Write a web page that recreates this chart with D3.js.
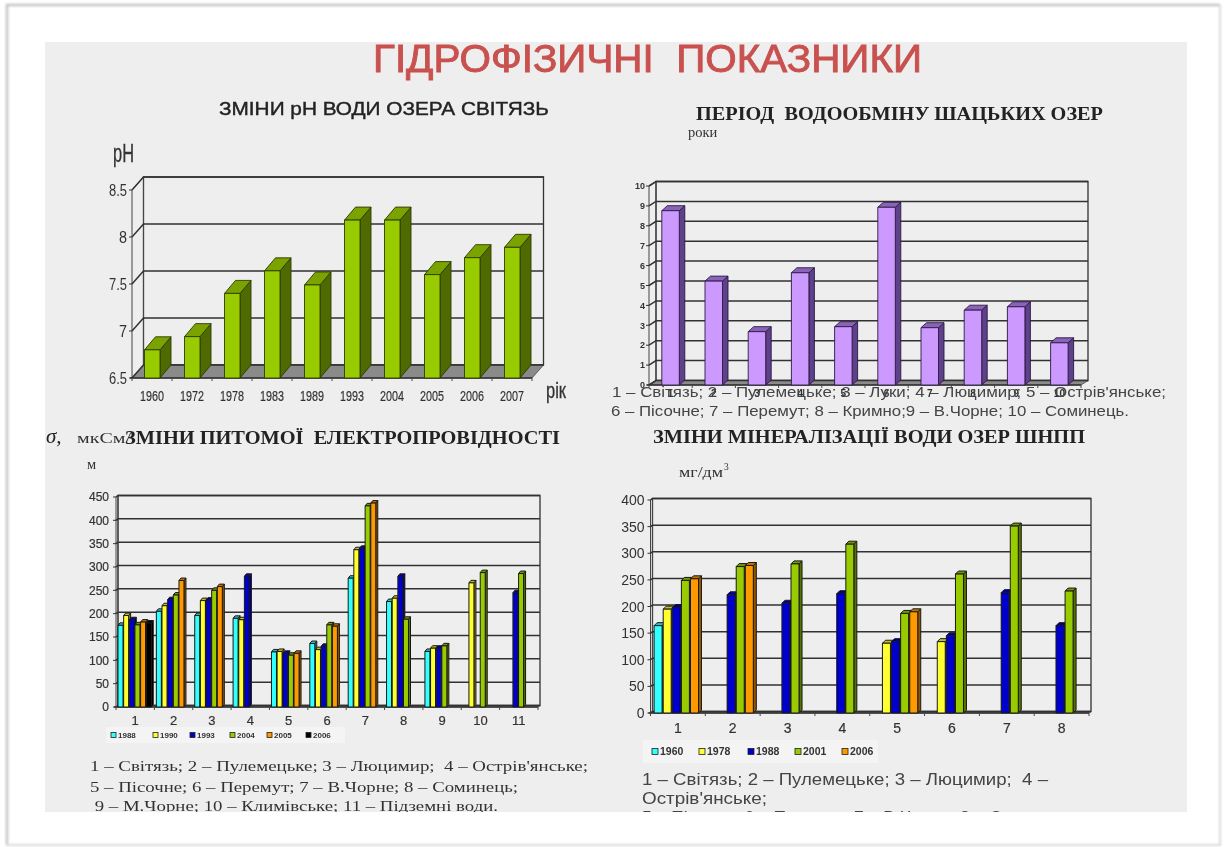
<!DOCTYPE html>
<html><head><meta charset="utf-8">
<script src="https://cdn.jsdelivr.net/npm/d3@7"></script>
<style>html,body{margin:0;padding:0;background:#fff}svg{display:block}</style></head>
<body><svg id="c" width="1224" height="847"></svg>
<script>
// ---------- data ----------
const phYears = ["1960","1972","1978","1983","1989","1993","2004","2005","2006","2007"];
const phValues = [6.8,6.94,7.4,7.64,7.49,8.18,8.18,7.6,7.78,7.89];
const phTicks = [6.5,7,7.5,8,8.5];

const exchangeCats = ["1","2","3","4","5","6","7","8","9","10"];
const exchangeValues = [8.76,5.22,2.68,5.64,2.93,8.93,2.88,3.76,3.93,2.12];
const exchangeTicks = [0,1,2,3,4,5,6,7,8,9,10];

const condCats = ["1","2","3","4","5","6","7","8","9","10","11"];
const condSeries = ["1988","1990","1993","2004","2005","2006"];
const cond1988 = [175,205,196,190,118,136,276,226,119,null,null];
const cond1990 = [196,217,228,187,119,123,337,233,126,266,null];
const cond1993 = [187,230,229,280,115,130,340,280,126,null,245];
const cond2004 = [176,240,250,null,111,176,431,188,131,288,286];
const cond2005 = [182,271,258,null,115,173,437,null,null,null,null];
const cond2006 = [180,null,null,null,null,null,null,null,null,null,null];
const condTicks = [0,50,100,150,200,250,300,350,400,450];

const minCats = ["1","2","3","4","5","6","7","8"];
const minSeries = ["1960","1978","1988","2001","2006"];
const min1960 = [164,null,null,null,null,null,null,null];
const min1978 = [195,null,null,null,131,134,null,null];
const min1988 = [198,222,206,224,134,145,226,164];
const min2001 = [249,275,280,317,187,261,351,229];
const min2006 = [252,277,null,null,190,null,null,null];
const minTicks = [0,50,100,150,200,250,300,350,400];

const condColors = ["#33ffff","#ffff33","#0000cc","#99cc00","#ff9900","#000000"];
const minColors = ["#33ffff","#ffff33","#0000cc","#99cc00","#ff9900"];

// ---------- page ----------
const svg = d3.select("#c");
const defs = svg.append("defs");
defs.append("filter").attr("id","soft").attr("x","-2%").attr("y","-2%").attr("width","104%").attr("height","104%")
  .append("feGaussianBlur").attr("stdDeviation",0.65);
defs.append("filter").attr("id","soft2").append("feGaussianBlur").attr("stdDeviation",1.2);
defs.append("clipPath").attr("id","slide").append("rect").attr("x",45).attr("y",42).attr("width",1142).attr("height",770);

svg.append("path").attr("d","M7 845V5H1220").attr("fill","none").attr("stroke","#c4c4c4").attr("stroke-width",2.5).attr("filter","url(#soft2)");
svg.append("path").attr("d","M7 845H1220V5").attr("fill","none").attr("stroke","#dadada").attr("stroke-width",2).attr("filter","url(#soft2)");
svg.append("rect").attr("x",45).attr("y",42).attr("width",1142).attr("height",770).attr("fill","#eeeeee");

const root = svg.append("g").attr("clip-path","url(#slide)").append("g").attr("filter","url(#soft)");
const SANS = "'Liberation Sans',Arial,sans-serif", SERIF = "'Liberation Serif','Times New Roman',serif";

function txt(t,x,y,size,opt={}){
  const el = root.append("text").attr("x",x).attr("y",y).attr("font-size",size)
    .attr("font-family",opt.font||SANS).attr("fill",opt.fill||"#333")
    .attr("font-weight",opt.weight||"normal").attr("text-anchor",opt.anchor||"start")
    .attr("font-style",opt.style||"normal").attr("xml:space","preserve").style("white-space","pre").text(t);
  if(opt.width) el.attr("textLength",opt.width).attr("lengthAdjust","spacingAndGlyphs");
  if(opt.stroke) el.attr("stroke",opt.fill||"#333").attr("stroke-width",opt.stroke);
  return el;
}
function shade(c,k){ return d3.color(c).darker(k).formatHex(); }

// generic 3-D column chart drawn from scales
function chart(cfg){
  const g = root.append("g");
  const {x,y,dx,dy,ticks} = cfg;
  const [y0,y1] = y.range(), [x0,x1] = x.range();
  // walls
  g.append("path").attr("d",`M${x0+dx} ${y1-dy}H${x1+dx}V${y0-dy}H${x0+dx}Z`).attr("fill","none").attr("stroke","#333").attr("stroke-width",1.3);
  g.append("path").attr("d",`M${x0} ${y1}L${x0+dx} ${y1-dy}V${y0-dy}L${x0} ${y0}Z`).attr("fill","none").attr("stroke","#444").attr("stroke-width",1);
  g.append("path").attr("d",`M${x0} ${y0}L${x0+dx} ${y0-dy}H${x1+dx}L${x1} ${y0}Z`).attr("fill","#8a8a8a").attr("stroke","#444").attr("stroke-width",.8);
  // gridlines + ticks
  ticks.forEach(t=>{
    const p=y(t);
    g.append("path").attr("d",`M${x0} ${p}L${x0+dx} ${p-dy}H${x1+dx}`).attr("fill","none").attr("stroke","#333").attr("stroke-width",cfg.gridW||1.5);
    g.append("line").attr("x1",x0-3).attr("x2",x0).attr("y1",p).attr("y2",p).attr("stroke","#333");
    txt(String(t),x0-(cfg.tickGap||5),p+cfg.tickSize*0.36,cfg.tickSize,{anchor:"end",fill:"#333",weight:cfg.tickWeight,stroke:cfg.tickStroke,width:cfg.tickWidth&&cfg.tickWidth(t)});
  });
  // axis
  g.append("line").attr("x1",x0-2).attr("x2",x1).attr("y1",y0).attr("y2",y0).attr("stroke","#333").attr("stroke-width",1.4);
  x.domain().forEach(d=>{
    g.append("line").attr("x1",x(d)).attr("x2",x(d)).attr("y1",y0).attr("y2",y0+3).attr("stroke","#444");
  });
  g.append("line").attr("x1",x1).attr("x2",x1).attr("y1",y0).attr("y2",y0+3).attr("stroke","#444");
  x.domain().forEach(d=>{
    txt(d,x(d)+x.bandwidth()/2,y0+cfg.labelOff,cfg.labelSize,{anchor:"middle",fill:"#333",weight:cfg.labelWeight,stroke:cfg.labelStroke,width:cfg.labelWidth});
  });
  // bars
  cfg.series.forEach((s,si)=>{
    s.values.forEach((v,i)=>{
      if(v==null) return;
      const l = x(x.domain()[i]) + cfg.pad + si*cfg.slot, w = cfg.barW, top=y(v), bd=cfg.bdx, bh=cfg.bdy;
      const bg = g.append("g").attr("stroke",cfg.barStroke||"#222").attr("stroke-width",cfg.barSW||.9).attr("stroke-linejoin","round");
      bg.append("polygon").attr("points",[[l+w,top],[l+w+bd,top-bh],[l+w+bd,y0-bh],[l+w,y0]].join(" ")).attr("fill",s.side||shade(s.color,1.6));
      bg.append("polygon").attr("points",[[l,top],[l+bd,top-bh],[l+w+bd,top-bh],[l+w,top]].join(" ")).attr("fill",s.topc||shade(s.color,.8));
      bg.append("rect").attr("x",l).attr("y",top).attr("width",w).attr("height",y0-top).attr("fill",s.color);
    });
  });
}

function legend(x,y,w,h,names,colors,offs,size,sw){
  root.append("rect").attr("x",x).attr("y",y).attr("width",w).attr("height",h).attr("fill","#f4f4f4");
  names.forEach((n,i)=>{
    root.append("rect").attr("x",x+offs[i]).attr("y",y+h/2-sw/2).attr("width",sw).attr("height",sw)
      .attr("fill",colors[i]).attr("stroke","#222").attr("stroke-width",.8);
    txt(n,x+offs[i]+sw+2,y+h/2+size*.36,size,{fill:"#333",weight:"bold"});
  });
}

// ---------- headings ----------
txt("ГІДРОФІЗИЧНІ  ПОКАЗНИКИ",373,72,38.5,{fill:"#c9514f",width:549,stroke:.9});
txt("ЗМІНИ pH ВОДИ ОЗЕРА СВІТЯЗЬ",219,115,18,{fill:"#222",width:330,stroke:.4});
txt("ПЕРІОД  ВОДООБМІНУ ШАЦЬКИХ ОЗЕР",696,120,18,{fill:"#222",font:SERIF,weight:"bold",width:407});
txt("роки",688,137,14.5,{fill:"#333",font:SERIF});
txt("ЗМІНИ ПИТОМОЇ  ЕЛЕКТРОПРОВІДНОСТІ",125,444,18,{fill:"#222",font:SERIF,weight:"bold",width:435});
txt("σ,",46,443,21,{fill:"#222",font:SERIF,style:"italic"});
txt("мкСм/",77,443,15.5,{fill:"#333",font:SERIF,width:54});
txt("м",87,469,14.5,{fill:"#333",font:SERIF});
txt("ЗМІНИ МІНЕРАЛІЗАЦІЇ ВОДИ ОЗЕР ШНПП",653,443,18,{fill:"#222",font:SERIF,weight:"bold",width:432});
txt("мг/дм",679,477,15,{fill:"#333",font:SERIF,width:44});
txt("3",724,470,9.5,{fill:"#333",font:SERIF});

// ---------- chart 1: pH ----------
txt("pH",113,162,25,{fill:"#333",width:21,stroke:.3});
chart({
  x:d3.scaleBand().domain(phYears).range([132,532]),
  y:d3.scaleLinear().domain([6.5,8.5]).range([378,190]),
  dx:11.5,dy:13,ticks:phTicks,
  tickSize:17,tickGap:5,tickWidth:t=>Number.isInteger(t)?8:18,
  labelOff:23,labelSize:15,labelWidth:24,labelStroke:.2,
  pad:12.5,slot:0,barW:15.5,bdx:11,bdy:13,barStroke:"#2c3a00",
  series:[{values:phValues,color:"#99cc00",side:"#4f6b00",topc:"#7aa300"}]
});
txt("рік",546,398,22,{fill:"#333",width:20,stroke:.3});

// ---------- chart 2: water exchange ----------
chart({
  x:d3.scaleBand().domain(exchangeCats).range([649,1081]),
  y:d3.scaleLinear().domain([0,10]).range([385,186]),
  dx:7,dy:4.5,ticks:exchangeTicks,
  tickSize:9,tickGap:4,tickWeight:"bold",
  labelOff:12,labelSize:10,labelWeight:"bold",
  pad:12.8,slot:0,barW:17.5,bdx:5.5,bdy:5,barStroke:"#2a1a44",
  series:[{values:exchangeValues,color:"#cc99ff",side:"#5f3f8a",topc:"#8a63b8"}]
});
txt("1 – Світязь; 2 – Пулемецьке; 3 – Луки; 4 – Люцимир; 5 – Острів'янське;",612,397,15,{fill:"#444",width:554});
txt("6 – Пісочне; 7 – Перемут; 8 – Кримно;9 – В.Чорне; 10 – Соминець.",611,416,15,{fill:"#444",width:518});

// ---------- chart 3: conductivity ----------
chart({
  x:d3.scaleBand().domain(condCats).range([116,538]),
  y:d3.scaleLinear().domain([0,450]).range([707,497]),
  dx:2,dy:1.5,ticks:condTicks,
  tickSize:12,tickGap:7,tickStroke:.2,
  labelOff:18,labelSize:13,labelStroke:.2,
  pad:2,slot:5.65,barW:5,bdx:2,bdy:2.5,barStroke:"#1a1a1a",barSW:1,
  series:[cond1988,cond1990,cond1993,cond2004,cond2005,cond2006].map((v,i)=>({values:v,color:condColors[i]}))
});
legend(106,727,239,16,condSeries,condColors,[5,47,84,124,161,200],8,5);
[["1 – Світязь; 2 – Пулемецьке; 3 – Люцимир;  4 – Острів'янське;",90,771,498],
 ["5 – Пісочне; 6 – Перемут; 7 – В.Чорне; 8 – Соминець;",90,792,428],
 [" 9 – М.Чорне; 10 – Климівське; 11 – Підземні води.",90,811,408]].forEach(l=>txt(l[0],l[1],l[2],15.5,{fill:"#333",font:SERIF,width:l[3]}));

// ---------- chart 4: mineralisation ----------
chart({
  x:d3.scaleBand().domain(minCats).range([650.5,1089]),
  y:d3.scaleLinear().domain([0,400]).range([713,500]),
  dx:2,dy:1.5,ticks:minTicks,
  tickSize:14,tickGap:6,
  labelOff:20,labelSize:14,labelStroke:.2,
  pad:3.6,slot:9.1,barW:8,bdx:3,bdy:3,barStroke:"#1a1a1a",barSW:1,
  series:[min1960,min1978,min1988,min2001,min2006].map((v,i)=>({values:v,color:minColors[i]}))
});
legend(643,740,235,23,minSeries,minColors,[9,56,105,152,199],10.5,6);
txt("1 – Світязь; 2 – Пулемецьке; 3 – Люцимир;  4 –",642,785,17,{fill:"#444",width:406});
txt("Острів'янське;",642,804,17,{fill:"#444",width:125});
txt("5 – Пісочне; 6 – Перемут; 7 – В.Чорне; 8 – Соминець",642,823,17,{fill:"#444",width:430});
</script></body></html>
